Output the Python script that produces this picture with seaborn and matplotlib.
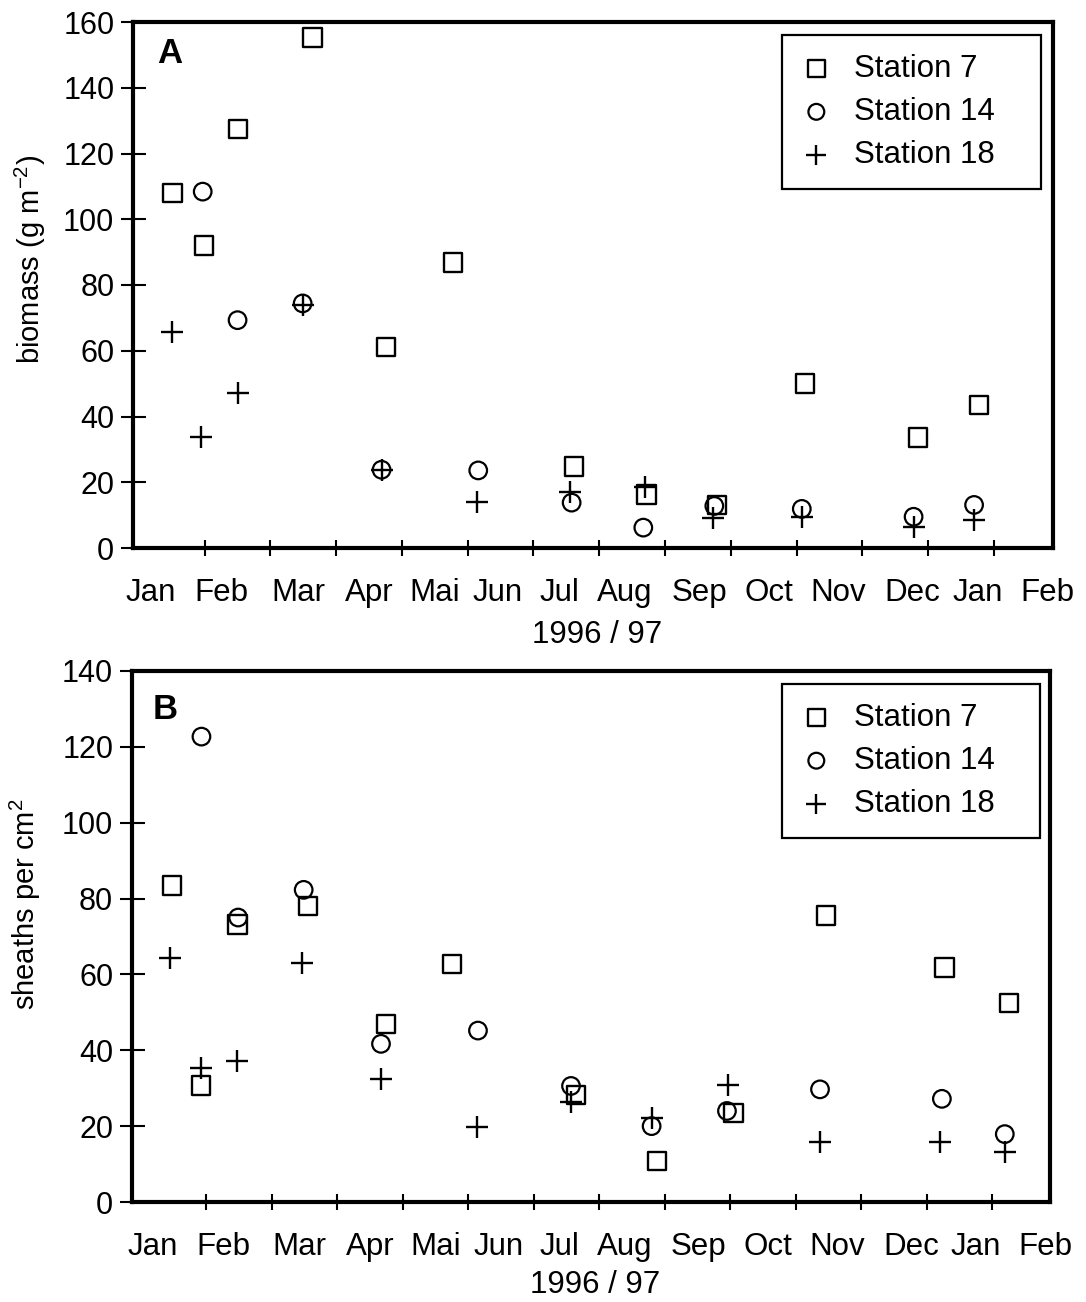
import matplotlib
matplotlib.use("Agg")
import numpy as np
import pandas as pd
import matplotlib.pyplot as plt
import seaborn as sns

# ---------------------------------------------------------------------------
# Data: sampling time in months elapsed since 1 January 1996
# ---------------------------------------------------------------------------
month_labels = ["Jan", "Feb", "Mar", "Apr", "Mai", "Jun", "Jul",
                "Aug", "Sep", "Oct", "Nov", "Dec", "Jan", "Feb"]
station_names = ["Station 7", "Station 14", "Station 18"]

# A: biomass (g m-2)
bio_t_st7 = [0.51, 0.99, 1.51, 2.64, 3.76, 4.78, 6.62, 7.72, 8.79, 10.13, 11.85, 12.77]
bio_st7 = [108.0, 92.0, 127.4, 155.3, 61.2, 86.8, 24.8, 16.3, 13.0, 50.0, 33.6, 43.5]

bio_t_st14 = [0.97, 1.50, 2.49, 3.69, 5.16, 6.58, 7.67, 8.75, 10.08, 11.78, 12.70]
bio_st14 = [108.4, 69.3, 74.4, 23.8, 23.6, 13.8, 6.2, 12.8, 11.9, 9.5, 13.1]

bio_t_st18 = [0.51, 0.95, 1.50, 2.49, 3.69, 5.14, 6.56, 7.69, 8.73, 10.08, 11.78, 12.70]
bio_st18 = [65.6, 33.7, 47.0, 74.0, 23.8, 14.1, 17.1, 18.7, 9.0, 9.3, 6.5, 8.5]

# B: sheaths per cm2
sh_t_st7 = [0.48, 0.92, 1.48, 2.56, 3.75, 4.75, 6.65, 7.88, 9.05, 10.46, 12.27, 13.25]
sh_st7 = [83.4, 30.7, 73.2, 78.0, 46.9, 62.7, 28.2, 10.8, 23.4, 75.5, 61.8, 52.5]

sh_t_st14 = [0.93, 1.49, 2.49, 3.67, 5.15, 6.57, 7.80, 8.95, 10.37, 12.23, 13.19]
sh_st14 = [122.7, 75.0, 82.3, 41.7, 45.2, 30.6, 20.0, 24.0, 29.7, 27.2, 17.9]

sh_t_st18 = [0.45, 0.93, 1.47, 2.47, 3.67, 5.13, 6.57, 7.81, 8.97, 10.37, 12.20, 13.20]
sh_st18 = [64.2, 35.4, 37.3, 62.9, 32.3, 19.7, 26.4, 22.1, 30.8, 15.9, 15.9, 13.3]


def long_frame(times, values):
    parts = [pd.DataFrame({"month": t, "value": v, "station": name})
             for name, t, v in zip(station_names, times, values)]
    return pd.concat(parts, ignore_index=True)


biomass = long_frame([bio_t_st7, bio_t_st14, bio_t_st18],
                     [bio_st7, bio_st14, bio_st18])
sheaths = long_frame([sh_t_st7, sh_t_st14, sh_t_st18],
                     [sh_st7, sh_st14, sh_st18])

# ---------------------------------------------------------------------------
# Style
# ---------------------------------------------------------------------------
sns.set_theme(style="ticks")
plt.rcParams["font.family"] = ["Liberation Sans", "DejaVu Sans"]
plt.rcParams["mathtext.fontset"] = "custom"
plt.rcParams["mathtext.rm"] = "Liberation Sans"
plt.rcParams["mathtext.it"] = "Liberation Sans:italic"
plt.rcParams["mathtext.bf"] = "Liberation Sans:bold"
plt.rcParams["axes.linewidth"] = 3.0
for key in ("text.color", "axes.labelcolor", "xtick.color", "ytick.color",
            "axes.edgecolor"):
    plt.rcParams[key] = "black"

marker_kw = {
    "Station 7": dict(marker="s", s=175, color="black", facecolor="none",
                      edgecolor="black", linewidth=1.7),
    "Station 14": dict(marker="o", s=160, color="black", facecolor="none",
                       edgecolor="black", linewidth=1.6),
    "Station 18": dict(marker="+", s=240, color="black", linewidth=1.7),
}

label_centres = [0.18, 1.26, 2.43, 3.50, 4.50, 5.46, 6.40, 7.39,
                 8.52, 9.58, 10.63, 11.76, 12.75, 13.81]
month_bounds = np.arange(1, 14)

fig = plt.figure(figsize=(10.86, 13.02), dpi=100)
ax_a = fig.add_axes([133 / 1086, 1 - 548 / 1302, 920 / 1086, 526 / 1302])
ax_b = fig.add_axes([132 / 1086, 1 - 1202 / 1302, 918 / 1086, 531 / 1302])

panels = [
    (ax_a, biomass, "A", r"biomass (g m$^{-2}$)", (0, 160), np.arange(0, 161, 20),
     (-0.09, 13.9), (0.7054, 0.975, 0.2815), (-0.092, 0.548), (0.026, 0.922), -0.137),
    (ax_b, sheaths, "B", r"sheaths per cm$^{2}$", (0, 140), np.arange(0, 141, 20),
     (-0.13, 13.88), (0.708, 0.9755, 0.281), (-0.097, 0.56), (0.022, 0.9096), -0.128),
]

for ax, df, letter, ylab, ylim, yticks, xlim, leg, ylab_pos, letter_pos, xlab_y in panels:
    for name in station_names:
        sub = df[df["station"] == name]
        sns.scatterplot(data=sub, x="month", y="value", ax=ax, label=name,
                        zorder=3, **marker_kw[name])

    ax.set_xlim(*xlim)
    ax.set_ylim(*ylim)

    # month names between the month-boundary tick marks
    ax.set_xticks(label_centres)
    ax.set_xticklabels(month_labels)
    ax.set_xticks(month_bounds, minor=True)
    ax.tick_params(axis="x", which="major", length=0, pad=21.5, labelsize=22.5,
                   labelcolor="black")
    ax.tick_params(axis="x", which="minor", direction="inout", length=11.5,
                   width=1.5, color="black")

    ax.set_yticks(yticks)
    ax.tick_params(axis="y", which="major", direction="inout", length=18,
                   width=1.5, pad=4.5, labelsize=22, color="black",
                   labelcolor="black")

    for sp in ax.spines.values():
        sp.set_visible(True)
        sp.set_color("black")
        sp.set_linewidth(3.0)

    ax.set_ylabel(ylab, fontsize=21, color="black")
    ax.yaxis.set_label_coords(*ylab_pos)
    ax.set_xlabel("1996 / 97", fontsize=22.5, color="black")
    ax.xaxis.set_label_coords(0.504, xlab_y)

    ax.text(letter_pos[0], letter_pos[1], letter, transform=ax.transAxes,
            fontsize=25, fontweight="bold", va="baseline", ha="left",
            color="black")

    lg = ax.legend(loc="upper left", bbox_to_anchor=(leg[0], leg[1] - 0.4, leg[2], 0.4),
                   mode="expand", borderaxespad=0, fontsize=22.5, markerscale=0.9,
                   handlelength=1.0, handletextpad=0.7, borderpad=0.6,
                   labelspacing=0.42, fancybox=False, framealpha=1,
                   edgecolor="black", frameon=True)
    lg.get_frame().set_linewidth(1.6)
    for txt in lg.get_texts():
        txt.set_color("black")

fig.savefig("out.png", dpi=100, facecolor="white")
